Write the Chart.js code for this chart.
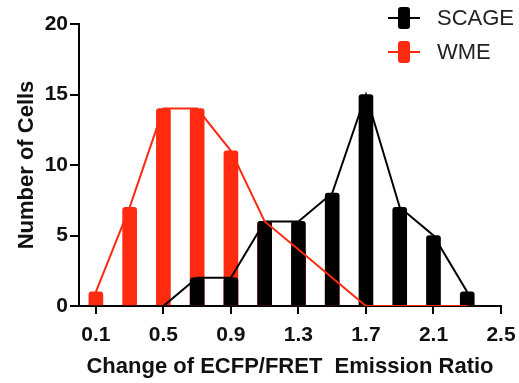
<!DOCTYPE html>
<html>
<head>
<meta charset="UTF-8">
<title>ECFP/FRET emission ratio histogram</title>
<script src="https://cdn.jsdelivr.net/npm/chart.js@4.4.0/dist/chart.umd.min.js"></script>
<style>
    body { margin: 0; background: #fff; }
</style>
</head>
<body>
<canvas id="myChart" width="519" height="383"></canvas>
<script>
    // bin centres and counts
    let binCenters = [0.1, 0.3, 0.5, 0.7, 0.9, 1.1, 1.3, 1.5, 1.7, 1.9, 2.1, 2.3];
    let wmeCounts = [1, 7, 14, 14, 11, 6, 4, 2, 0, 0, 0, 0];
    let scageCounts = [null, null, 0, 2, 2, 6, 6, 8, 15, 7, 5, 1];
    let xTicks = [0.1, 0.5, 0.9, 1.3, 1.7, 2.1, 2.5];
    let seriesNames = ["SCAGE", "WME"];

    const RED = '#ff2a10';
    const BLACK = '#000000';
    const FONT = "'Liberation Sans', Arial, Helvetica, sans-serif";

    function pts(arr) {
        return binCenters.map(function (x, i) { return { x: x, y: arr[i] }; });
    }

    // legend drawn like the prism one: line with a bar on it
    const legendPlugin = {
        id: 'prismLegend',
        afterDraw: function (chart) {
            const ctx = chart.ctx;
            const items = [
                { label: seriesNames[0], color: BLACK, y: 18 },
                { label: seriesNames[1], color: RED, y: 52 }
            ];
            ctx.save();
            items.forEach(function (it) {
                ctx.strokeStyle = it.color;
                ctx.fillStyle = it.color;
                ctx.lineWidth = 2;
                ctx.beginPath();
                ctx.moveTo(388, it.y);
                ctx.lineTo(420, it.y);
                ctx.stroke();
                ctx.beginPath();
                ctx.roundRect(398, it.y - 11, 12, 22, 3);
                ctx.fill();
                ctx.fillStyle = '#222';
                ctx.font = "22px " + FONT;
                ctx.textBaseline = 'middle';
                ctx.fillText(it.label, 437, it.y + 1);
            });
            ctx.restore();
        }
    };

    const ctx = document.getElementById('myChart').getContext('2d');
    const myChart = new Chart(ctx, {
        type: 'bar',
        data: {
            datasets: [
                {
                    type: 'line', label: seriesNames[1], data: pts(wmeCounts),
                    borderColor: RED, borderWidth: 2, pointRadius: 0, order: 1
                },
                {
                    type: 'line', label: seriesNames[0], data: pts(scageCounts),
                    borderColor: BLACK, borderWidth: 2, pointRadius: 0, order: 2
                },
                {
                    type: 'bar', label: seriesNames[0], data: pts(scageCounts),
                    backgroundColor: BLACK, barThickness: 14, grouped: false,
                    borderRadius: 3, order: 3
                },
                {
                    type: 'bar', label: seriesNames[1], data: pts(wmeCounts),
                    backgroundColor: RED, barThickness: 14, grouped: false,
                    borderRadius: 3, order: 4
                }
            ]
        },
        options: {
            responsive: false,
            animation: false,
            layout: { padding: { top: 24, right: 18, left: 0, bottom: 0 } },
            plugins: {
                legend: { display: false },
                tooltip: { enabled: false }
            },
            scales: {
                x: {
                    type: 'linear',
                    min: 0,
                    max: 2.5,
                    offset: false,
                    afterBuildTicks: function (scale) {
                        scale.ticks = xTicks.map(function (v) { return { value: v }; });
                    },
                    afterFit: function (scale) {
                        scale.height = 77;
                        scale.paddingLeft = 0;
                        scale.paddingRight = 0;
                    },
                    ticks: {
                        autoSkip: false,
                        maxRotation: 0,
                        padding: 9,
                        color: '#111',
                        font: { family: FONT, size: 21, weight: 'bold' },
                        callback: function (v) { return Number(v).toFixed(1); }
                    },
                    grid: {
                        offset: false,
                        drawOnChartArea: false,
                        drawTicks: true,
                        tickLength: 8,
                        color: BLACK,
                        lineWidth: 2
                    },
                    border: { color: BLACK, width: 2 },
                    title: {
                        display: true,
                        text: 'Change of ECFP/FRET  Emission Ratio',
                        color: '#111',
                        font: { family: FONT, size: 22, weight: 'bold' },
                        padding: { top: 4, bottom: 3 }
                    }
                },
                y: {
                    min: 0,
                    max: 20,
                    afterFit: function (scale) {
                        scale.width = 79;
                        scale.paddingTop = 0;
                        scale.paddingBottom = 0;
                    },
                    ticks: {
                        stepSize: 5,
                        padding: 2,
                        color: '#111',
                        font: { family: FONT, size: 21, weight: 'bold' }
                    },
                    grid: {
                        drawOnChartArea: false,
                        drawTicks: true,
                        tickLength: 9,
                        color: BLACK,
                        lineWidth: 2
                    },
                    border: { color: BLACK, width: 2 },
                    title: {
                        display: true,
                        text: 'Number of Cells',
                        color: '#111',
                        font: { family: FONT, size: 22, weight: 'bold' },
                        padding: { top: 14, bottom: 2 }
                    }
                }
            }
        },
        plugins: [legendPlugin]
    });
</script>
</body>
</html>
